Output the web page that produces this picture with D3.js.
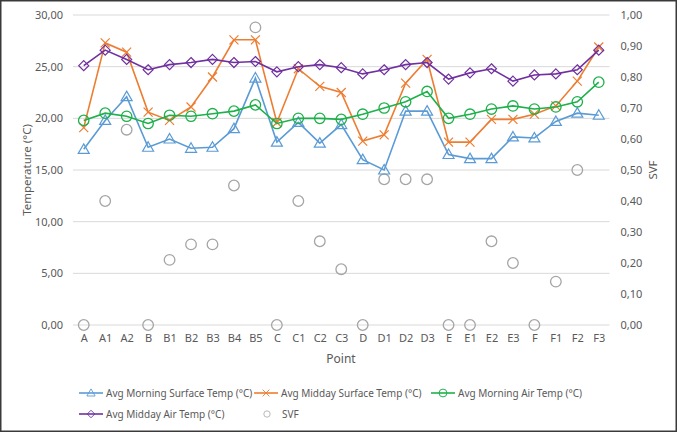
<!DOCTYPE html>
<html>
<head>
<meta charset="utf-8">
<script src="https://cdn.jsdelivr.net/npm/d3@7"></script>
<style>
  body { margin: 0; background: #fff; }
  svg text { font-family: "Noto Sans", "Open Sans", sans-serif; fill: #595959; }
</style>
</head>
<body>
<div class="chart"></div>
<script>
const WIDTH = 677,
    HEIGHT = 432;

// data
const points = ["A", "A1", "A2", "B", "B1", "B2", "B3", "B4", "B5", "C", "C1", "C2", "C3",
    "D", "D1", "D2", "D3", "E", "E1", "E2", "E3", "F", "F1", "F2", "F3"];
const morningSurface = [17.0, 19.8, 22.1, 17.2, 18.0, 17.1, 17.2, 19.0, 23.9, 17.7, 19.6, 17.6, 19.4,
    16.0, 15.0, 20.7, 20.7, 16.5, 16.1, 16.1, 18.2, 18.1, 19.7, 20.5, 20.3];
const middaySurface = [19.1, 27.3, 26.4, 20.6, 19.8, 21.1, 24.0, 27.6, 27.6, 19.6, 24.8, 23.1, 22.5,
    17.8, 18.4, 23.4, 25.7, 17.7, 17.7, 19.9, 19.9, 20.4, 21.2, 23.6, 26.9];
const morningAir = [19.8, 20.5, 20.2, 19.5, 20.3, 20.2, 20.45, 20.7, 21.3, 19.5, 20.0, 20.0, 19.9,
    20.4, 21.0, 21.6, 22.6, 20.0, 20.4, 20.9, 21.2, 20.9, 21.1, 21.6, 23.5];
const middayAir = [25.1, 26.6, 25.7, 24.7, 25.2, 25.4, 25.7, 25.4, 25.5, 24.5, 25.0, 25.2, 24.9,
    24.3, 24.7, 25.2, 25.4, 23.8, 24.4, 24.8, 23.6, 24.2, 24.3, 24.7, 26.6];
const svf = [0, 0.40, 0.63, 0, 0.21, 0.26, 0.26, 0.45, 0.96, 0, 0.40, 0.27, 0.18,
    0, 0.47, 0.47, 0.47, 0, 0, 0.27, 0.20, 0, 0.14, 0.50, null];
const tempTicks = [0, 5, 10, 15, 20, 25, 30];
const svfTicks = [0, 0.1, 0.2, 0.3, 0.4, 0.5, 0.6, 0.7, 0.8, 0.9, 1.0];

const series = [
    { name: "Avg Morning Surface Temp (°C)", values: morningSurface, color: "#5B9BD5", marker: "triangle" },
    { name: "Avg Midday Surface Temp (°C)", values: middaySurface, color: "#ED7D31", marker: "cross" },
    { name: "Avg Morning Air Temp (°C)", values: morningAir, color: "#1DB04B", marker: "circle" },
    { name: "Avg Midday Air Temp (°C)", values: middayAir, color: "#7030A0", marker: "diamond" }
];

const svg = d3.select(".chart")
    .append("svg")
    .attr("width", WIDTH)
    .attr("height", HEIGHT);

svg.append("rect")
    .attr("x", 0.75).attr("y", 0.75)
    .attr("width", WIDTH - 1.5).attr("height", HEIGHT - 1.5)
    .attr("fill", "#fff")
    .attr("stroke", "#3a3a3a")
    .attr("stroke-width", 1.5);

const x = d3.scalePoint().domain(points).range([73, 609.5]).padding(0.5);
const y = d3.scaleLinear().domain([0, 30]).range([325, 15]);
const y2 = d3.scaleLinear().domain([0, 1]).range([325, 15]);
const comma = d => d3.format(".2f")(d).replace(".", ",");

// gridlines
svg.append("g")
    .selectAll("line")
    .data(tempTicks)
    .join("line")
    .attr("x1", 73).attr("x2", 609.5)
    .attr("y1", d => y(d)).attr("y2", d => y(d))
    .attr("stroke", "#d9d9d9")
    .attr("stroke-width", 1);

// left axis
const leftAxis = svg.append("g")
    .attr("transform", "translate(73,0)")
    .call(d3.axisLeft(y).tickValues(tempTicks).tickFormat(comma).tickSize(0).tickPadding(10));
leftAxis.select(".domain").remove();
leftAxis.selectAll("text").style("font-size", "11px").attr("fill", "#595959");

// right axis
const rightAxis = svg.append("g")
    .attr("transform", "translate(609.5,0)")
    .call(d3.axisRight(y2).tickValues(svfTicks).tickFormat(comma).tickSize(0).tickPadding(11));
rightAxis.select(".domain").remove();
rightAxis.selectAll("text").style("font-size", "11px").attr("fill", "#595959");

// bottom axis
const bottomAxis = svg.append("g")
    .attr("transform", "translate(0,325)")
    .call(d3.axisBottom(x).tickSize(0).tickPadding(9));
bottomAxis.select(".domain").remove();
bottomAxis.selectAll("text").style("font-size", "11px").attr("fill", "#595959");

// axis titles
svg.append("text")
    .attr("transform", "translate(31,170) rotate(-90)")
    .attr("text-anchor", "middle")
    .style("font-size", "11.5px")
    .text("Temperature (°C)");
svg.append("text")
    .attr("transform", "translate(657,170) rotate(-90)")
    .attr("text-anchor", "middle")
    .style("font-size", "11.5px")
    .text("SVF");
svg.append("text")
    .attr("x", 341).attr("y", 363)
    .attr("text-anchor", "middle")
    .style("font-size", "12px")
    .text("Point");

function drawMarker(g, type, color, cx, cy) {
    if (type === "triangle") {
        g.append("path")
            .attr("d", `M${cx},${cy - 5.5}L${cx + 5.5},${cy + 4}L${cx - 5.5},${cy + 4}Z`)
            .attr("fill", "none").attr("stroke", color).attr("stroke-width", 1.2);
    } else if (type === "cross") {
        g.append("path")
            .attr("d", `M${cx - 4.5},${cy - 4.5}L${cx + 4.5},${cy + 4.5}M${cx + 4.5},${cy - 4.5}L${cx - 4.5},${cy + 4.5}`)
            .attr("fill", "none").attr("stroke", color).attr("stroke-width", 1.2);
    } else if (type === "circle") {
        g.append("circle")
            .attr("cx", cx).attr("cy", cy).attr("r", 5.2)
            .attr("fill", "none").attr("stroke", color).attr("stroke-width", 1.3);
    } else if (type === "diamond") {
        g.append("path")
            .attr("d", `M${cx},${cy - 5}L${cx + 5},${cy}L${cx},${cy + 5}L${cx - 5},${cy}Z`)
            .attr("fill", "none").attr("stroke", color).attr("stroke-width", 1.2);
    } else if (type === "svf") {
        g.append("circle")
            .attr("cx", cx).attr("cy", cy).attr("r", 5.3)
            .attr("fill", "none").attr("stroke", color).attr("stroke-width", 1.3);
    }
}

// svf points
const svfG = svg.append("g");
svf.forEach((v, i) => {
    if (v === null) return;
    drawMarker(svfG, "svf", "#A5A5A5", x(points[i]), y2(v));
});

// temperature lines
const line = d3.line()
    .x((d, i) => x(points[i]))
    .y(d => y(d));

series.forEach(s => {
    const g = svg.append("g");
    g.append("path")
        .datum(s.values)
        .attr("d", line)
        .attr("fill", "none")
        .attr("stroke", s.color)
        .attr("stroke-width", 1.6);
    s.values.forEach((v, i) => drawMarker(g, s.marker, s.color, x(points[i]), y(v)));
});

// legend
const legendItems = [
    { s: series[0], x: 79, y: 393 },
    { s: series[1], x: 254, y: 393 },
    { s: series[2], x: 431, y: 393 },
    { s: series[3], x: 79, y: 414 },
    { s: { name: "SVF", color: "#A5A5A5", marker: "svf" }, x: 255, y: 414 }
];
legendItems.forEach(item => {
    const g = svg.append("g");
    if (item.s.marker !== "svf") {
        g.append("line")
            .attr("x1", item.x).attr("x2", item.x + 24)
            .attr("y1", item.y).attr("y2", item.y)
            .attr("stroke", item.s.color).attr("stroke-width", 1.6);
        const m = g.append("g").attr("transform", `translate(${item.x + 12},${item.y}) scale(0.75) translate(${-(item.x + 12)},${-item.y})`);
        drawMarker(m, item.s.marker, item.s.color, item.x + 12, item.y);
    } else {
        const m = g.append("g").attr("transform", `translate(${item.x + 12},${item.y}) scale(0.6) translate(${-(item.x + 12)},${-item.y})`);
        drawMarker(m, "svf", item.s.color, item.x + 12, item.y);
    }
    g.append("text")
        .attr("x", item.x + 27).attr("y", item.y)
        .attr("dy", "0.35em")
        .style("font-size", "10px")
        .text(item.s.name);
});
</script>
</body>
</html>
